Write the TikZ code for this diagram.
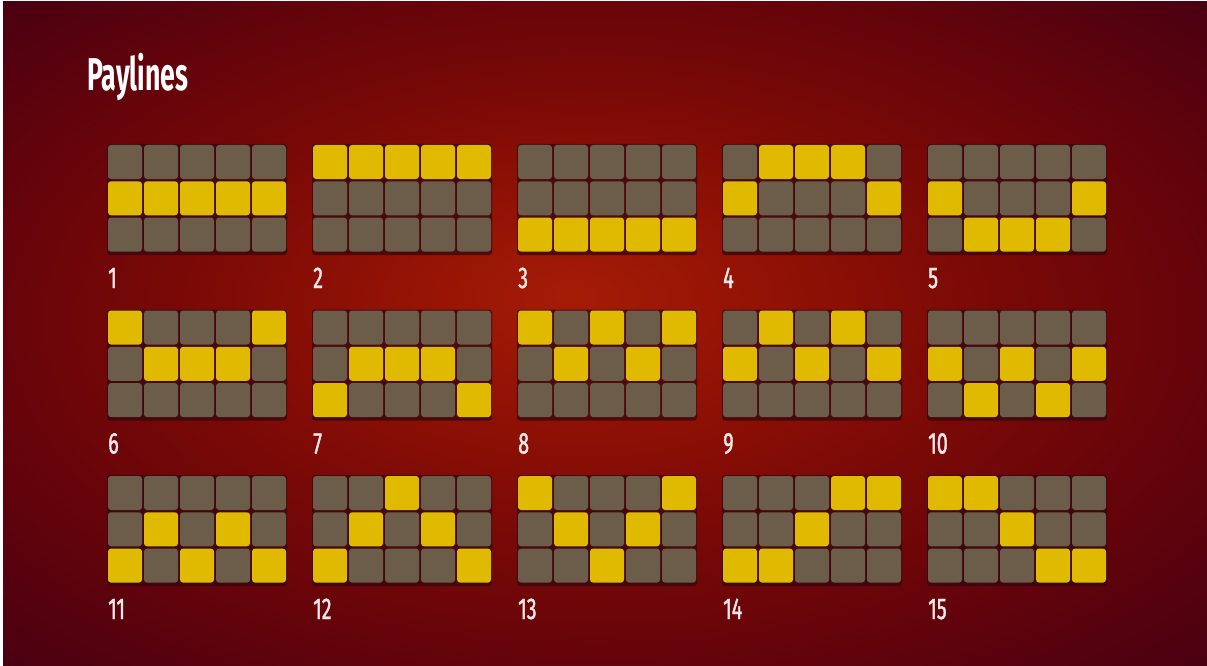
\documentclass[tikz,border=0pt]{standalone}
\usepackage{fontspec}
\newfontfamily\titlefont[FakeStretch=0.58]{Fira Sans}
\newfontfamily\numfont[FakeStretch=0.66,FakeBold=1.2]{Fira Sans}
\definecolor{bgA}{RGB}{165,28,6}
\definecolor{bgB}{RGB}{146,18,5}
\definecolor{bgC}{RGB}{124,10,6}
\definecolor{bgD}{RGB}{102,4,10}
\definecolor{bgE}{RGB}{72,0,18}
\definecolor{cellgray}{RGB}{108,92,74}
\definecolor{cellyel}{RGB}{224,186,0}
\definecolor{celldark}{RGB}{52,8,16}
\definecolor{labelc}{RGB}{246,232,232}
\pgfdeclareradialshading{bgshade}{\pgfpoint{-1.5bp}{3bp}}{color(0bp)=(bgA); color(8bp)=(bgB); color(16bp)=(bgC); color(25bp)=(bgD); color(36bp)=(bgE)}
\tikzset{
  cellbox/.style={rounded corners=3pt},
  grayc/.style={cellbox, fill=cellgray},
  yelc/.style={cellbox, fill=cellyel},
  backing/.style={fill=celldark, opacity=0.75, rounded corners=3pt},
  numlabel/.style={anchor=base west, inner sep=0pt, text=labelc, font=\numfont\fontsize{30}{30}\selectfont},
  titletext/.style={anchor=base west, inner sep=0pt, text=white, font=\titlefont\bfseries\fontsize{46}{46}\selectfont}
}
\begin{document}
\begin{tikzpicture}[x=1pt,y=-1pt]
\useasboundingbox (0,0) rectangle (1207,666);
\fill[white] (0,0) rectangle (1207,666);
\shade[shading=bgshade] (3,2) rectangle (1207,666);
\node[titletext] (title) at (87,91) {Paylines};
\foreach \n/\a/\b/\c/\d/\e [count=\k from 0] in {
  1/1/1/1/1/1, 2/0/0/0/0/0, 3/2/2/2/2/2, 4/1/0/0/0/1, 5/1/2/2/2/1,
  6/0/1/1/1/0, 7/2/1/1/1/2, 8/0/1/0/1/0, 9/1/0/1/0/1, 10/1/2/1/2/1,
  11/2/1/2/1/2, 12/2/1/0/1/2, 13/0/1/2/1/0, 14/2/2/1/0/0, 15/0/0/1/2/2}{
  \pgfmathtruncatemacro{\gc}{mod(\k,5)}
  \pgfmathtruncatemacro{\gr}{int(\k/5)}
  \pgfmathsetmacro{\gx}{108+205*\gc}
  \pgfmathsetmacro{\gy}{145+165.5*\gr}
  \fill[backing] (\gx-1,\gy-1) rectangle ++(180,111);
  \foreach \col/\sel in {0/\a,1/\b,2/\c,3/\d,4/\e}{
    \foreach \row in {0,1,2}{
      \pgfmathsetmacro{\cx}{\gx+36*\col}
      \pgfmathsetmacro{\cy}{\gy+36.3*\row}
      \ifnum\row=\sel
        \fill[yelc] (\cx,\cy) rectangle ++(34,34);
      \else
        \fill[grayc] (\cx,\cy) rectangle ++(34,34);
      \fi
    }
  }
  \node[numlabel] (lab\n) at (\gx,\gy+143) {\n};
}
\end{tikzpicture}
\end{document}
